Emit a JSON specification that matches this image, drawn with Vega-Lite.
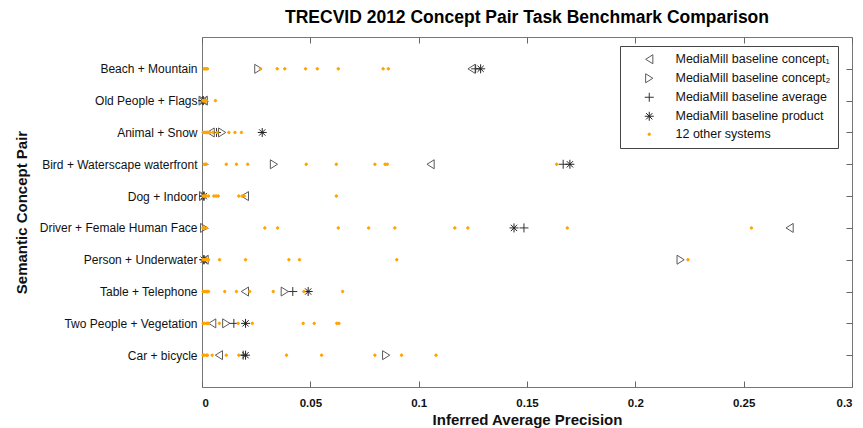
{
  "$schema": "https://vega.github.io/schema/vega-lite/v6.json",
  "width": 650,
  "height": 350,
  "autosize": "none",
  "padding": {"left": 202, "top": 37, "right": 11, "bottom": 41},
  "background": "white",
  "title": {"text": "TRECVID 2012 Concept Pair Task Benchmark Comparison", "fontSize": 17.5, "fontWeight": "bold", "font": "Liberation Sans", "color": "#000", "anchor": "middle", "offset": 11},
  "config": {
    "font": "Liberation Sans",
    "view": {"stroke": "#777", "strokeWidth": 1},
    "legend": {
      "orient": "none", "legendX": 418, "legendY": 9, "fillColor": "white", "strokeColor": "#444",
      "padding": 7, "labelFontSize": 12.5, "labelFont": "Liberation Sans", "labelColor": "#111",
      "symbolSize": 81, "rowPadding": 5, "labelOffset": 20, "symbolOffset": 16, "symbolStrokeWidth": 1, "labelLimit": 300
    }
  },
  "data": {"values": [
    {"p": "Beach + Mountain", "s": "MediaMill baseline concept₁", "v": 0.1244},
    {"p": "Beach + Mountain", "s": "MediaMill baseline concept₂", "v": 0.026},
    {"p": "Beach + Mountain", "s": "MediaMill baseline average", "v": 0.1263},
    {"p": "Beach + Mountain", "s": "MediaMill baseline product", "v": 0.1286},
    {"p": "Old People + Flags", "s": "MediaMill baseline concept₁", "v": 0.0008},
    {"p": "Old People + Flags", "s": "MediaMill baseline concept₂", "v": 0.0003},
    {"p": "Old People + Flags", "s": "MediaMill baseline average", "v": 0.0005},
    {"p": "Old People + Flags", "s": "MediaMill baseline product", "v": 0.0005},
    {"p": "Animal + Snow", "s": "MediaMill baseline concept₁", "v": 0.004},
    {"p": "Animal + Snow", "s": "MediaMill baseline concept₂", "v": 0.0093},
    {"p": "Animal + Snow", "s": "MediaMill baseline average", "v": 0.0067},
    {"p": "Animal + Snow", "s": "MediaMill baseline product", "v": 0.0278},
    {"p": "Bird + Waterscape waterfront", "s": "MediaMill baseline concept₁", "v": 0.1055},
    {"p": "Bird + Waterscape waterfront", "s": "MediaMill baseline concept₂", "v": 0.0332},
    {"p": "Bird + Waterscape waterfront", "s": "MediaMill baseline average", "v": 0.1667},
    {"p": "Bird + Waterscape waterfront", "s": "MediaMill baseline product", "v": 0.1698},
    {"p": "Dog + Indoor", "s": "MediaMill baseline concept₁", "v": 0.0198},
    {"p": "Dog + Indoor", "s": "MediaMill baseline concept₂", "v": 0.0005},
    {"p": "Dog + Indoor", "s": "MediaMill baseline average", "v": 0.001},
    {"p": "Dog + Indoor", "s": "MediaMill baseline product", "v": 0.0008},
    {"p": "Driver + Female Human Face", "s": "MediaMill baseline concept₁", "v": 0.2712},
    {"p": "Driver + Female Human Face", "s": "MediaMill baseline concept₂", "v": 0.001},
    {"p": "Driver + Female Human Face", "s": "MediaMill baseline average", "v": 0.1486},
    {"p": "Driver + Female Human Face", "s": "MediaMill baseline product", "v": 0.144},
    {"p": "Person + Underwater", "s": "MediaMill baseline concept₁", "v": 0.0012},
    {"p": "Person + Underwater", "s": "MediaMill baseline concept₂", "v": 0.2209},
    {"p": "Person + Underwater", "s": "MediaMill baseline average", "v": 0.001},
    {"p": "Person + Underwater", "s": "MediaMill baseline product", "v": 0.0008},
    {"p": "Table + Telephone", "s": "MediaMill baseline concept₁", "v": 0.0198},
    {"p": "Table + Telephone", "s": "MediaMill baseline concept₂", "v": 0.0382},
    {"p": "Table + Telephone", "s": "MediaMill baseline average", "v": 0.0419},
    {"p": "Table + Telephone", "s": "MediaMill baseline product", "v": 0.049},
    {"p": "Two People + Vegetation", "s": "MediaMill baseline concept₁", "v": 0.0047},
    {"p": "Two People + Vegetation", "s": "MediaMill baseline concept₂", "v": 0.0112},
    {"p": "Two People + Vegetation", "s": "MediaMill baseline average", "v": 0.0147},
    {"p": "Two People + Vegetation", "s": "MediaMill baseline product", "v": 0.0201},
    {"p": "Car + bicycle", "s": "MediaMill baseline concept₁", "v": 0.0078},
    {"p": "Car + bicycle", "s": "MediaMill baseline concept₂", "v": 0.085},
    {"p": "Car + bicycle", "s": "MediaMill baseline average", "v": 0.019},
    {"p": "Car + bicycle", "s": "MediaMill baseline product", "v": 0.0201},

    {"p": "Beach + Mountain", "s": "12 other systems", "v": 0.001},
    {"p": "Beach + Mountain", "s": "12 other systems", "v": 0.0015},
    {"p": "Beach + Mountain", "s": "12 other systems", "v": 0.002},
    {"p": "Beach + Mountain", "s": "12 other systems", "v": 0.0025},
    {"p": "Beach + Mountain", "s": "12 other systems", "v": 0.027},
    {"p": "Beach + Mountain", "s": "12 other systems", "v": 0.0347},
    {"p": "Beach + Mountain", "s": "12 other systems", "v": 0.0382},
    {"p": "Beach + Mountain", "s": "12 other systems", "v": 0.0478},
    {"p": "Beach + Mountain", "s": "12 other systems", "v": 0.0532},
    {"p": "Beach + Mountain", "s": "12 other systems", "v": 0.0629},
    {"p": "Beach + Mountain", "s": "12 other systems", "v": 0.0836},
    {"p": "Beach + Mountain", "s": "12 other systems", "v": 0.086},

    {"p": "Old People + Flags", "s": "12 other systems", "v": 0.0005},
    {"p": "Old People + Flags", "s": "12 other systems", "v": 0.0008},
    {"p": "Old People + Flags", "s": "12 other systems", "v": 0.001},
    {"p": "Old People + Flags", "s": "12 other systems", "v": 0.0012},
    {"p": "Old People + Flags", "s": "12 other systems", "v": 0.0015},
    {"p": "Old People + Flags", "s": "12 other systems", "v": 0.002},
    {"p": "Old People + Flags", "s": "12 other systems", "v": 0.0006},
    {"p": "Old People + Flags", "s": "12 other systems", "v": 0.0011},
    {"p": "Old People + Flags", "s": "12 other systems", "v": 0.0016},
    {"p": "Old People + Flags", "s": "12 other systems", "v": 0.0018},
    {"p": "Old People + Flags", "s": "12 other systems", "v": 0.0004},
    {"p": "Old People + Flags", "s": "12 other systems", "v": 0.0062},

    {"p": "Animal + Snow", "s": "12 other systems", "v": 0.0005},
    {"p": "Animal + Snow", "s": "12 other systems", "v": 0.001},
    {"p": "Animal + Snow", "s": "12 other systems", "v": 0.0015},
    {"p": "Animal + Snow", "s": "12 other systems", "v": 0.002},
    {"p": "Animal + Snow", "s": "12 other systems", "v": 0.0025},
    {"p": "Animal + Snow", "s": "12 other systems", "v": 0.003},
    {"p": "Animal + Snow", "s": "12 other systems", "v": 0.0035},
    {"p": "Animal + Snow", "s": "12 other systems", "v": 0.005},
    {"p": "Animal + Snow", "s": "12 other systems", "v": 0.007},
    {"p": "Animal + Snow", "s": "12 other systems", "v": 0.0124},
    {"p": "Animal + Snow", "s": "12 other systems", "v": 0.0152},
    {"p": "Animal + Snow", "s": "12 other systems", "v": 0.0182},

    {"p": "Bird + Waterscape waterfront", "s": "12 other systems", "v": 0.001},
    {"p": "Bird + Waterscape waterfront", "s": "12 other systems", "v": 0.0016},
    {"p": "Bird + Waterscape waterfront", "s": "12 other systems", "v": 0.002},
    {"p": "Bird + Waterscape waterfront", "s": "12 other systems", "v": 0.0112},
    {"p": "Bird + Waterscape waterfront", "s": "12 other systems", "v": 0.0159},
    {"p": "Bird + Waterscape waterfront", "s": "12 other systems", "v": 0.0211},
    {"p": "Bird + Waterscape waterfront", "s": "12 other systems", "v": 0.0481},
    {"p": "Bird + Waterscape waterfront", "s": "12 other systems", "v": 0.062},
    {"p": "Bird + Waterscape waterfront", "s": "12 other systems", "v": 0.0798},
    {"p": "Bird + Waterscape waterfront", "s": "12 other systems", "v": 0.0845},
    {"p": "Bird + Waterscape waterfront", "s": "12 other systems", "v": 0.0855},
    {"p": "Bird + Waterscape waterfront", "s": "12 other systems", "v": 0.1637},

    {"p": "Dog + Indoor", "s": "12 other systems", "v": 0.0005},
    {"p": "Dog + Indoor", "s": "12 other systems", "v": 0.001},
    {"p": "Dog + Indoor", "s": "12 other systems", "v": 0.0015},
    {"p": "Dog + Indoor", "s": "12 other systems", "v": 0.002},
    {"p": "Dog + Indoor", "s": "12 other systems", "v": 0.003},
    {"p": "Dog + Indoor", "s": "12 other systems", "v": 0.0055},
    {"p": "Dog + Indoor", "s": "12 other systems", "v": 0.0065},
    {"p": "Dog + Indoor", "s": "12 other systems", "v": 0.0075},
    {"p": "Dog + Indoor", "s": "12 other systems", "v": 0.017},
    {"p": "Dog + Indoor", "s": "12 other systems", "v": 0.0185},
    {"p": "Dog + Indoor", "s": "12 other systems", "v": 0.0195},
    {"p": "Dog + Indoor", "s": "12 other systems", "v": 0.062},

    {"p": "Driver + Female Human Face", "s": "12 other systems", "v": 0.0005},
    {"p": "Driver + Female Human Face", "s": "12 other systems", "v": 0.001},
    {"p": "Driver + Female Human Face", "s": "12 other systems", "v": 0.002},
    {"p": "Driver + Female Human Face", "s": "12 other systems", "v": 0.029},
    {"p": "Driver + Female Human Face", "s": "12 other systems", "v": 0.0349},
    {"p": "Driver + Female Human Face", "s": "12 other systems", "v": 0.0629},
    {"p": "Driver + Female Human Face", "s": "12 other systems", "v": 0.0769},
    {"p": "Driver + Female Human Face", "s": "12 other systems", "v": 0.089},
    {"p": "Driver + Female Human Face", "s": "12 other systems", "v": 0.1167},
    {"p": "Driver + Female Human Face", "s": "12 other systems", "v": 0.1227},
    {"p": "Driver + Female Human Face", "s": "12 other systems", "v": 0.1686},
    {"p": "Driver + Female Human Face", "s": "12 other systems", "v": 0.2536},

    {"p": "Person + Underwater", "s": "12 other systems", "v": 0.0005},
    {"p": "Person + Underwater", "s": "12 other systems", "v": 0.001},
    {"p": "Person + Underwater", "s": "12 other systems", "v": 0.0015},
    {"p": "Person + Underwater", "s": "12 other systems", "v": 0.002},
    {"p": "Person + Underwater", "s": "12 other systems", "v": 0.0025},
    {"p": "Person + Underwater", "s": "12 other systems", "v": 0.003},
    {"p": "Person + Underwater", "s": "12 other systems", "v": 0.0081},
    {"p": "Person + Underwater", "s": "12 other systems", "v": 0.0201},
    {"p": "Person + Underwater", "s": "12 other systems", "v": 0.0401},
    {"p": "Person + Underwater", "s": "12 other systems", "v": 0.045},
    {"p": "Person + Underwater", "s": "12 other systems", "v": 0.0899},
    {"p": "Person + Underwater", "s": "12 other systems", "v": 0.2243},

    {"p": "Table + Telephone", "s": "12 other systems", "v": 0.0005},
    {"p": "Table + Telephone", "s": "12 other systems", "v": 0.001},
    {"p": "Table + Telephone", "s": "12 other systems", "v": 0.0015},
    {"p": "Table + Telephone", "s": "12 other systems", "v": 0.002},
    {"p": "Table + Telephone", "s": "12 other systems", "v": 0.0025},
    {"p": "Table + Telephone", "s": "12 other systems", "v": 0.003},
    {"p": "Table + Telephone", "s": "12 other systems", "v": 0.0105},
    {"p": "Table + Telephone", "s": "12 other systems", "v": 0.0159},
    {"p": "Table + Telephone", "s": "12 other systems", "v": 0.022},
    {"p": "Table + Telephone", "s": "12 other systems", "v": 0.0329},
    {"p": "Table + Telephone", "s": "12 other systems", "v": 0.047},
    {"p": "Table + Telephone", "s": "12 other systems", "v": 0.0649},

    {"p": "Two People + Vegetation", "s": "12 other systems", "v": 0.0005},
    {"p": "Two People + Vegetation", "s": "12 other systems", "v": 0.001},
    {"p": "Two People + Vegetation", "s": "12 other systems", "v": 0.002},
    {"p": "Two People + Vegetation", "s": "12 other systems", "v": 0.0025},
    {"p": "Two People + Vegetation", "s": "12 other systems", "v": 0.003},
    {"p": "Two People + Vegetation", "s": "12 other systems", "v": 0.008},
    {"p": "Two People + Vegetation", "s": "12 other systems", "v": 0.0167},
    {"p": "Two People + Vegetation", "s": "12 other systems", "v": 0.0232},
    {"p": "Two People + Vegetation", "s": "12 other systems", "v": 0.0467},
    {"p": "Two People + Vegetation", "s": "12 other systems", "v": 0.0518},
    {"p": "Two People + Vegetation", "s": "12 other systems", "v": 0.0622},
    {"p": "Two People + Vegetation", "s": "12 other systems", "v": 0.0632},

    {"p": "Car + bicycle", "s": "12 other systems", "v": 0.0005},
    {"p": "Car + bicycle", "s": "12 other systems", "v": 0.001},
    {"p": "Car + bicycle", "s": "12 other systems", "v": 0.002},
    {"p": "Car + bicycle", "s": "12 other systems", "v": 0.0025},
    {"p": "Car + bicycle", "s": "12 other systems", "v": 0.0047},
    {"p": "Car + bicycle", "s": "12 other systems", "v": 0.0112},
    {"p": "Car + bicycle", "s": "12 other systems", "v": 0.017},
    {"p": "Car + bicycle", "s": "12 other systems", "v": 0.039},
    {"p": "Car + bicycle", "s": "12 other systems", "v": 0.0552},
    {"p": "Car + bicycle", "s": "12 other systems", "v": 0.0798},
    {"p": "Car + bicycle", "s": "12 other systems", "v": 0.0921},
    {"p": "Car + bicycle", "s": "12 other systems", "v": 0.108}
  ]},
  "mark": {"type": "point", "size": 81, "strokeWidth": 1, "opacity": 1},
  "encoding": {
    "x": {"field": "v", "type": "quantitative",
      "scale": {"domain": [0, 0.3], "nice": false, "zero": false},
      "axis": {"orient": "bottom", "title": "Inferred Average Precision", "values": [0, 0.05, 0.1, 0.15, 0.2, 0.25, 0.3],
        "format": ".2~f", "domain": false, "ticks": false, "labelPadding": 10,
        "grid": true, "gridColor": "#666", "gridWidth": 1, "gridOpacity": 1, "gridDash": [6, 338, 6],
        "labelFont": "Liberation Sans", "labelFontSize": 11.5, "labelFontWeight": "bold", "labelColor": "#111",
        "titleFont": "Liberation Sans", "titleFontSize": 15, "titleFontWeight": "bold", "titleColor": "#111", "titlePadding": 4}},
    "y": {"field": "p", "type": "nominal",
      "scale": {"type": "point", "padding": 1, "domain": ["Beach + Mountain", "Old People + Flags", "Animal + Snow", "Bird + Waterscape waterfront", "Dog + Indoor", "Driver + Female Human Face", "Person + Underwater", "Table + Telephone", "Two People + Vegetation", "Car + bicycle"]},
      "axis": {"orient": "left", "title": "Semantic Concept Pair", "domain": false, "ticks": false, "labelPadding": 5,
        "grid": true, "gridColor": "#666", "gridWidth": 1, "gridOpacity": 1, "gridDash": [6, 638, 6],
        "labelFont": "Liberation Sans", "labelFontSize": 12, "labelColor": "#111", "labelLimit": 300,
        "titleFont": "Liberation Sans", "titleFontSize": 15, "titleFontWeight": "bold", "titleColor": "#111", "titlePadding": 10}},
    "shape": {"field": "s", "type": "nominal", "title": null,
      "scale": {"domain": ["MediaMill baseline concept₁", "MediaMill baseline concept₂", "MediaMill baseline average", "MediaMill baseline product", "12 other systems"],
        "range": ["M0.8,-1L-0.8,0L0.8,1Z", "M-0.8,-1L0.8,0L-0.8,1Z", "M-1,0L1,0M0,-1L0,1", "M-1,0L1,0M0,-1L0,1M-0.7,-0.7L0.7,0.7M-0.7,0.7L0.7,-0.7", "M-0.28,0A0.28,0.28,0,1,0,0.28,0A0.28,0.28,0,1,0,-0.28,0Z"]}},
    "stroke": {"field": "s", "type": "nominal", "title": null,
      "scale": {"domain": ["MediaMill baseline concept₁", "MediaMill baseline concept₂", "MediaMill baseline average", "MediaMill baseline product", "12 other systems"],
        "range": ["#5a5a5a", "#5a5a5a", "#333333", "#222222", "#FFA500"]}},
    "fill": {"field": "s", "type": "nominal", "title": null,
      "scale": {"domain": ["MediaMill baseline concept₁", "MediaMill baseline concept₂", "MediaMill baseline average", "MediaMill baseline product", "12 other systems"],
        "range": ["transparent", "transparent", "transparent", "transparent", "#FFA500"]}}
  }
}
